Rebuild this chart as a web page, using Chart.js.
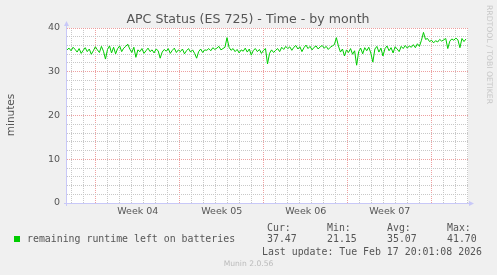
<!DOCTYPE html>
<html><head><meta charset="utf-8">
<script src="https://cdn.jsdelivr.net/npm/chart.js@4"></script>
<style>
html,body{margin:0;padding:0;background:#f0f0f0;}
#wrap{position:relative;width:497px;height:275px;overflow:hidden;}
canvas{position:absolute;left:0;top:0;}
.t{position:absolute;font-family:"DejaVu Sans Mono",monospace;font-size:9.9px;line-height:12px;color:#555;white-space:pre;}
.sq{position:absolute;left:14px;top:236px;width:6px;height:6px;background:#00cc00;}
.munin{position:absolute;left:0;width:497px;top:258px;text-align:center;font-family:"DejaVu Sans",sans-serif;font-size:7.6px;line-height:12px;color:#bbb;}
</style></head><body>
<div id="wrap"><canvas id="c" width="497" height="275"></canvas><div id="legend"></div></div>
<script>
// ---- data ----
const chartTitle = 'APC Status (ES 725) - Time - by month';
const yAxisLabel = 'minutes';
const seriesLabel = 'remaining runtime left on batteries';
const statLabels = ['Cur:', 'Min:', 'Avg:', 'Max:'];
const statValues = ['37.47', '21.15', '35.07', '41.70'];
const lastUpdate = 'Last update: Tue Feb 17 20:01:08 2026';
const footer = 'Munin 2.0.56';
const sideText = 'RRDTOOL / TOBI OETIKER';
const weekLabels = ['Week 04', 'Week 05', 'Week 06', 'Week 07'];
const weekLabelDays = [5.9, 12.9, 19.9, 26.9];   // days since window start (mid-week)
const weekStartDays = [2.4, 9.4, 16.4, 23.4, 30.4];
const windowDays = 33.42;
const stepDays = 0.1688;   // sample interval (days)
const runtime = [
 35.0,35.4,34.8,35.6,35.1,34.5,35.3,34.2,34.9,35.5,
 34.6,35.2,34.0,34.8,35.7,35.0,34.4,35.8,34.7,32.9,
 35.1,35.9,34.3,35.6,34.1,35.3,35.9,34.6,35.4,35.8,
 36.3,35.2,34.4,35.6,33.3,35.0,34.6,35.3,34.2,34.8,
 35.4,34.6,35.0,34.3,35.2,34.8,33.1,34.5,35.1,34.7,
 35.3,34.2,34.9,35.4,34.4,35.0,34.6,35.2,34.1,34.8,
 35.3,34.5,35.0,34.2,33.1,34.6,35.2,34.4,35.0,34.9,
 35.3,34.8,35.5,35.1,35.4,35.8,35.0,35.3,35.6,37.8,
 35.6,34.9,35.3,34.6,35.1,34.3,35.0,34.7,35.4,34.5,
 35.2,33.8,34.9,35.3,34.6,35.1,34.2,34.9,35.3,31.8,
 34.2,35.0,34.4,34.9,35.3,34.6,35.6,35.1,35.8,35.3,
 35.7,34.9,35.6,36.0,35.2,35.7,34.6,35.5,36.1,35.3,
 35.8,35.0,35.6,35.9,35.2,35.7,36.0,35.4,35.8,35.1,
 35.6,35.9,36.2,37.8,35.9,34.5,35.2,33.6,35.0,34.4,
 35.3,34.0,34.8,31.5,34.6,35.4,34.1,35.5,34.8,35.6,
 34.3,32.2,35.2,35.8,34.5,35.4,33.6,35.3,35.9,34.8,
 35.5,34.3,35.7,35.2,34.6,35.8,35.3,36.0,35.4,35.9,
 35.6,36.2,35.5,36.4,35.8,37.2,39.0,37.4,37.6,36.9,
 37.2,36.6,37.1,36.8,37.4,37.0,37.3,37.6,35.3,37.0,
 37.5,37.2,37.7,37.3,35.5,37.6,36.9,37.5
];

// ---- legend (HTML text) ----
const lg = document.getElementById('legend');
function addText(txt, left, top, cls) {
  const d = document.createElement('div');
  d.className = cls || 't';
  d.textContent = txt;
  if (left !== null) d.style.left = left + 'px';
  d.style.top = top + 'px';
  lg.appendChild(d);
}
const sq = document.createElement('div'); sq.className = 'sq'; lg.appendChild(sq);
addText(seriesLabel, 27, 233);
const statX = [267, 327, 387, 447];
statLabels.forEach((s, i) => addText(s, statX[i], 222));
statValues.forEach((s, i) => addText(s, statX[i], 233));
addText(lastUpdate, 262, 246);
addText(footer, null, 258, 'munin');

// ---- ticks ----
const near = (a, b) => Math.abs(a - b) < 1e-6;
const tickValues = [];
for (let k = 0; 0.4 + k <= windowDays; k++) tickValues.push(+(0.4 + k).toFixed(2));
weekLabelDays.forEach(v => tickValues.push(v));
tickValues.sort((a, b) => a - b);

const MINOR = 'rgba(200,200,200,1)';
const MAJOR = 'rgba(235,150,150,0.9)';
const AXIS = '#c8c8f8';

const munin = {
  id: 'munin',
  beforeDraw(chart) {
    const {ctx, chartArea: a} = chart;
    ctx.save();
    ctx.fillStyle = '#f0f0f0';
    ctx.fillRect(0, 0, chart.width, chart.height);
    ctx.fillStyle = '#ffffff';
    ctx.fillRect(a.left, a.top, a.right - a.left, a.bottom - a.top);
    ctx.restore();
  },
  afterDraw(chart) {
    const {ctx, chartArea: a} = chart;
    ctx.save();
    // axes
    ctx.strokeStyle = AXIS; ctx.fillStyle = AXIS; ctx.lineWidth = 1;
    ctx.beginPath();
    ctx.moveTo(a.left - 0.5, a.bottom + 3); ctx.lineTo(a.left - 0.5, a.top - 4);
    ctx.moveTo(a.left - 3, a.bottom + 0.5); ctx.lineTo(a.right + 3, a.bottom + 0.5);
    ctx.stroke();
    ctx.beginPath();
    ctx.moveTo(a.left - 0.5, a.top - 7); ctx.lineTo(a.left - 3, a.top - 2); ctx.lineTo(a.left + 2, a.top - 2); ctx.closePath();
    ctx.fill();
    ctx.beginPath();
    ctx.moveTo(a.right + 6, a.bottom + 0.5); ctx.lineTo(a.right + 1, a.bottom - 2); ctx.lineTo(a.right + 1, a.bottom + 3); ctx.closePath();
    ctx.fill();
    // title
    ctx.fillStyle = '#555';
    ctx.font = '12.6px "DejaVu Sans"';
    ctx.textAlign = 'center'; ctx.textBaseline = 'middle';
    ctx.fillText(chartTitle, 248, 19.5);
    // y axis title
    ctx.save();
    ctx.translate(11, 115); ctx.rotate(-Math.PI / 2);
    ctx.font = '10.5px "DejaVu Sans"';
    ctx.fillText(yAxisLabel, 0, 0);
    ctx.restore();
    // side text
    ctx.save();
    ctx.translate(489, 5); ctx.rotate(Math.PI / 2);
    ctx.font = '7.7px "DejaVu Sans"';
    ctx.fillStyle = '#c8c8c8';
    ctx.textAlign = 'left';
    ctx.fillText(sideText, 0, 0);
    ctx.restore();
    ctx.restore();
  }
};

new Chart(document.getElementById('c'), {
  type: 'line',
  data: {
    datasets: [{
      label: seriesLabel,
      data: runtime.map((v, i) => ({x: i * stepDays, y: v})),
      borderColor: '#00cc00',
      borderWidth: 1,
      pointRadius: 0,
      tension: 0,
      fill: false
    }]
  },
  options: {
    responsive: false,
    devicePixelRatio: 1,
    animation: false,
    events: [],
    layout: {padding: {top: 28, right: 29, left: 0, bottom: 0}},
    plugins: {legend: {display: false}, title: {display: false}, tooltip: {enabled: false}},
    scales: {
      x: {
        type: 'linear', min: 0, max: windowDays,
        afterBuildTicks: s => { s.ticks = tickValues.map(v => ({value: v})); },
        afterFit: s => { s.height = 72; },
        ticks: {
          autoSkip: false, maxRotation: 0, minRotation: 0, padding: 3,
          color: '#555', font: {family: 'DejaVu Sans', size: 9.5},
          callback: v => { const i = weekLabelDays.findIndex(w => near(w, v)); return i >= 0 ? weekLabels[i] : ''; }
        },
        grid: {
          drawTicks: false, lineWidth: 1,
          color: c => {
            const v = c.tick ? c.tick.value : null;
            if (v === null) return MINOR;
            if (weekLabelDays.some(w => near(w, v))) return 'rgba(0,0,0,0)';
            if (weekStartDays.some(w => near(w, v))) return MAJOR;
            return MINOR;
          }
        },
        border: {display: false, dash: [1, 1]}
      },
      y: {
        min: 0, max: 40,
        afterFit: s => { s.width = 67; },
        ticks: {
          stepSize: 2, autoSkip: false, padding: 7,
          color: '#555', font: {family: 'DejaVu Sans', size: 9.5},
          callback: v => (v % 10 === 0 ? String(v) : '')
        },
        grid: {
          drawTicks: false, lineWidth: 1,
          color: c => (c.tick && c.tick.value % 10 === 0 ? MAJOR : MINOR)
        },
        border: {display: false, dash: [1, 1]}
      }
    }
  },
  plugins: [munin]
});
</script>
</body></html>
